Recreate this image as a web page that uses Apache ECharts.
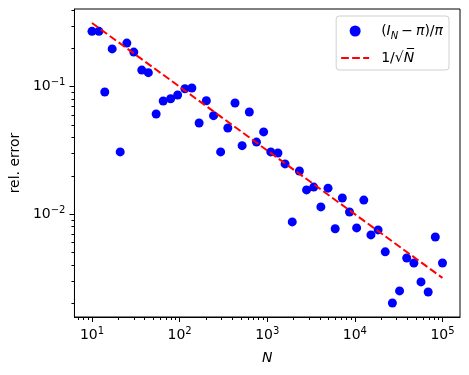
<!DOCTYPE html>
<html>
<head>
<meta charset="utf-8">
<script src="https://cdn.jsdelivr.net/npm/echarts@6/dist/echarts.min.js"></script>
<style>
  html, body { margin: 0; padding: 0; background: #fff; }
  #chart { width: 469px; height: 375px; }
</style>
</head>
<body>
<div id="chart"></div>
<script>
// sample sizes N (50 points, log spaced 10 .. 1e5)
var nValues = [10, 12, 14, 17, 21, 25, 30, 37, 44, 54, 65, 79, 95, 115, 138, 167, 202, 244, 294, 355,
  429, 517, 625, 754, 910, 1098, 1325, 1599, 1930, 2329, 2811, 3393, 4094, 4941, 5963, 7196, 8685,
  10481, 12648, 15264, 18420, 22229, 26826, 32374, 39069, 47148, 56898, 68664, 82864, 100000];
// relative error (I_N - pi)/pi
var relError = [0.272, 0.272, 0.0909, 0.198, 0.0308, 0.220, 0.187, 0.135, 0.129, 0.0611,
  0.0772, 0.0805, 0.0861, 0.0965, 0.0977, 0.0519, 0.0777, 0.0593, 0.0308, 0.0474,
  0.0745, 0.0345, 0.0633, 0.0368, 0.0442, 0.0308, 0.0302, 0.0248, 0.00869, 0.0218,
  0.0155, 0.0163, 0.0114, 0.0160, 0.00769, 0.0134, 0.0104, 0.00780, 0.0129, 0.00687,
  0.00752, 0.00506, 0.00201, 0.00250, 0.00453, 0.00414, 0.00294, 0.00245, 0.00662, 0.00414];
// reference line 1/sqrt(N), end points
var lineN = [10, 100000];
var lineValues = [0.3162, 0.003162];

// tick labels
var xMajor = [10, 100, 1000, 10000, 100000];
var yMajor = [0.01, 0.1];
var xMinor = [];
[1, 10, 100, 1000, 10000, 100000].forEach(function (d) {
  for (var m = 2; m <= 9; m++) { if (d * m < 158000 && d * m > 6.3) xMinor.push(d * m); }
});
var yMinor = [0.002, 0.003, 0.004, 0.005, 0.006, 0.007, 0.008, 0.009,
  0.02, 0.03, 0.04, 0.05, 0.06, 0.07, 0.08, 0.09, 0.2, 0.3, 0.4];

var FONT = 'DejaVu Sans';
var xMin = Math.pow(10, 0.8), xMax = Math.pow(10, 5.2);
var yMin = Math.pow(10, -2.807), yMax = Math.pow(10, -0.39);

var powRich = {
  a: { fontFamily: FONT, fontSize: 14, color: '#000', lineHeight: 18 },
  b: { fontFamily: FONT, fontSize: 10, color: '#000', lineHeight: 10, verticalAlign: 'top' }
};
function powLabel(v) {
  var e = Math.round(Math.log10(v));
  return '{a|10}{b|' + (e < 0 ? '\u2212' + (-e) : e) + '}';
}

var scatterData = nValues.map(function (n, i) { return [n, relError[i]]; });
var lineData = lineN.map(function (n, i) { return [n, lineValues[i]]; });

var myChart = echarts.init(document.getElementById('chart'));
var option = {
  animation: false,
  grid: {
    left: 72, right: 9, top: 9, bottom: 58,
    show: true, borderColor: '#000', borderWidth: 1, backgroundColor: '#fff'
  },
  legend: {
    orient: 'vertical',
    right: 20, top: 16,
    padding: [8, 6, 5, 4],
    itemGap: 10,
    itemWidth: 28, itemHeight: 11,
    borderColor: '#d0d0d0', borderWidth: 1, borderRadius: 3,
    backgroundColor: 'rgba(255,255,255,0.8)',
    data: [
      { name: 'err' },
      { name: 'ref', itemStyle: { color: 'rgba(0,0,0,0)', borderWidth: 0 } }
    ],
    formatter: function (name) {
      if (name === 'err') {
        return '{sp|}{t|(}{i|I}{s|N}{m|\u2212}{i|\u03c0}{t|)/}{i|\u03c0}';
      }
      return '{sp|}{t|1/\u221a}{i|N\u0305}';
    },
    textStyle: {
      rich: {
        sp: { width: 7 },
        t: { fontFamily: FONT, fontSize: 14, color: '#000', lineHeight: 20 },
        m: { fontFamily: FONT, fontSize: 14, color: '#000', lineHeight: 20, padding: [0, 3, 0, 3] },
        i: { fontFamily: FONT, fontSize: 14, fontStyle: 'italic', color: '#000', lineHeight: 20 },
        s: { fontFamily: FONT, fontSize: 10, fontStyle: 'italic', color: '#000', lineHeight: 10, verticalAlign: 'bottom' }
      }
    }
  },
  xAxis: [
    {
      type: 'log', logBase: 10, min: xMin, max: xMax,
      position: 'bottom',
      name: 'N', nameLocation: 'middle', nameGap: 34,
      nameTextStyle: { fontFamily: FONT, fontSize: 14, fontStyle: 'italic', color: '#000' },
      axisLine: { show: true, lineStyle: { color: '#000', width: 1 } },
      axisTick: { show: true, length: 5, lineStyle: { color: '#000', width: 1 }, customValues: xMajor },
      axisLabel: { show: true, margin: 9, customValues: xMajor, formatter: powLabel, rich: powRich },
      splitLine: { show: false }, minorTick: { show: false }
    },
    {
      type: 'log', logBase: 10, min: xMin, max: xMax,
      position: 'bottom',
      axisLine: { show: false },
      axisTick: { show: true, length: 3, lineStyle: { color: '#000', width: 1 }, customValues: xMinor },
      axisLabel: { show: false },
      splitLine: { show: false }
    }
  ],
  yAxis: [
    {
      type: 'log', logBase: 10, min: yMin, max: yMax,
      position: 'left',
      name: 'rel. error', nameLocation: 'middle', nameGap: 50,
      nameTextStyle: { fontFamily: FONT, fontSize: 14, color: '#000' },
      axisLine: { show: true, lineStyle: { color: '#000', width: 1 } },
      axisTick: { show: true, length: 5, lineStyle: { color: '#000', width: 1 }, customValues: yMajor },
      axisLabel: { show: true, margin: 9, customValues: yMajor, formatter: powLabel, rich: powRich },
      splitLine: { show: false }
    },
    {
      type: 'log', logBase: 10, min: yMin, max: yMax,
      position: 'left',
      axisLine: { show: false },
      axisTick: { show: true, length: 3, lineStyle: { color: '#000', width: 1 }, customValues: yMinor },
      axisLabel: { show: false },
      splitLine: { show: false }
    }
  ],
  series: [
    {
      name: 'err',
      type: 'scatter',
      xAxisIndex: 0, yAxisIndex: 0,
      data: scatterData,
      symbol: 'circle',
      symbolSize: 9,
      itemStyle: { color: '#0000ff', opacity: 1 },
      emphasis: { disabled: true }
    },
    {
      name: 'ref',
      type: 'line',
      xAxisIndex: 0, yAxisIndex: 0,
      data: lineData,
      symbol: 'none',
      lineStyle: { color: '#ff0000', width: 2, type: [7.7, 3.3] },
      itemStyle: { color: '#ff0000' },
      emphasis: { disabled: true }
    }
  ]
};
myChart.setOption(option);
window.onresize = function () {
  myChart.resize();
};
</script>
</body>
</html>
